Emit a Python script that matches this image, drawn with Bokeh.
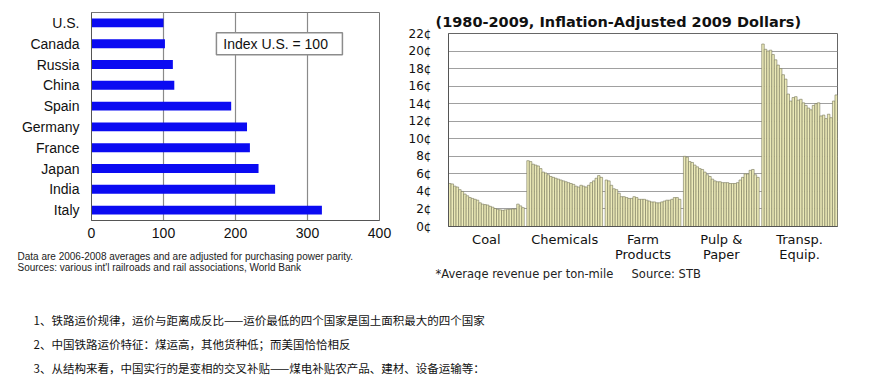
from bokeh.plotting import figure
from bokeh.models import FactorRange, Range1d, FixedTicker, Title, Label, ColumnDataSource
from bokeh.layouts import row, column
from bokeh.embed import file_html
from bokeh.resources import INLINE
from bokeh.core.properties import value

# ---------------- data ----------------
countries = ["U.S.", "Canada", "Russia", "China", "Spain", "Germany", "France", "Japan", "India", "Italy"]
rate_index = [100, 102, 113, 115, 194, 216, 220, 232, 255, 320]
left_ticks = [0, 100, 200, 300, 400]

years = list(range(1980, 2010))
commodities = ["Coal", "Chemicals", "Farm\nProducts", "Pulp &\nPaper", "Transp.\nEquip."]
coal = [4.9, 4.85, 4.6, 4.5, 4.2, 4.0, 3.7, 3.5, 3.3, 3.2, 3.1, 3.0, 2.7, 2.55, 2.5,
        2.45, 2.3, 2.2, 2.05, 1.95, 1.9, 1.85, 1.9, 1.95, 1.95, 2.0, 2.0, 2.55, 2.35, 2.15]
chemicals = [7.5, 7.4, 7.1, 7.0, 6.9, 6.6, 6.2, 6.1, 5.9, 5.7, 5.6, 5.5, 5.4, 5.3, 5.2,
             5.1, 5.0, 4.9, 4.8, 4.6, 4.5, 4.7, 4.6, 4.5, 4.7, 5.0, 5.2, 5.5, 5.8, 5.6]
farm = [5.3, 5.2, 4.7, 4.3, 4.2, 3.8, 3.4, 3.4, 3.3, 3.2, 3.2, 3.4, 3.3, 3.1, 3.1,
        3.1, 3.0, 2.9, 2.8, 2.8, 2.7, 2.7, 2.8, 2.9, 3.0, 3.0, 3.1, 3.3, 3.3, 3.1]
pulp = [8.0, 7.9, 7.4, 7.3, 7.0, 6.8, 6.6, 6.5, 6.2, 5.9, 5.7, 5.4, 5.2, 5.1, 5.1,
        5.0, 5.0, 5.0, 4.9, 4.9, 4.9, 5.0, 5.3, 5.6, 6.0, 6.0, 6.4, 6.5, 5.9, 5.6]
transp = [20.8, 20.2, 20.0, 20.1, 19.6, 19.0, 18.4, 18.0, 17.3, 16.8, 15.1, 14.3, 14.7, 14.8, 14.4,
          14.5, 14.1, 13.8, 13.5, 13.3, 13.8, 14.0, 14.1, 12.6, 12.7, 12.3, 12.8, 12.4, 14.3, 15.0]
right_ticks = list(range(0, 23, 2))

notes = [
    "1、铁路运价规律，运价与距离成反比——运价最低的四个国家是国土面积最大的四个国家",
    "2、中国铁路运价特征：煤运高，其他货种低；而美国恰恰相反",
    "3、从结构来看，中国实行的是变相的交叉补贴——煤电补贴农产品、建材、设备运输等：",
]

FONT = "Liberation Sans"
FONT2 = "DejaVu Sans"


def no_align(p):
    try:
        p.frame_align = False
    except Exception:
        pass


# ---------------- left chart ----------------
p1 = figure(width=400, height=283, y_range=FactorRange(factors=countries[::-1]),
            x_range=Range1d(0, 400), output_backend="svg", toolbar_location=None,
            min_border_left=91, min_border_right=21, min_border_top=12, min_border_bottom=63)
no_align(p1)
p1.hbar(y=countries, right=rate_index, left=0, height=0.43, fill_color="#0b0bf2", line_color=None)

p1.xaxis.ticker = FixedTicker(ticks=left_ticks)
p1.xgrid.ticker = FixedTicker(ticks=left_ticks)
p1.xgrid.grid_line_color = "#8a8a8a"
p1.xgrid.grid_line_width = 1.2
p1.ygrid.visible = False
for ax in (p1.xaxis, p1.yaxis):
    ax.major_tick_line_color = None
    ax.minor_tick_line_color = None
    ax.major_tick_out = 0
    ax.major_tick_in = 0
    ax.minor_tick_out = 0
    ax.axis_line_color = "#555555"
    ax.major_label_text_font = FONT
    ax.major_label_text_font_size = "14px"
    ax.major_label_text_color = "#111111"
p1.xaxis.major_label_standoff = 7
p1.yaxis.major_label_standoff = 12
p1.outline_line_color = "#777777"
p1.background_fill_color = "white"
p1.border_fill_color = "white"

box_src = ColumnDataSource(dict(bx=[261], tx=[183], y=["Canada"], t=["Index U.S. = 100"]))
p1.rect(x="bx", y="y", width=126, height=22, width_units="screen", height_units="screen",
        source=box_src, fill_color="white", line_color="#8c8c8c", line_width=1.5)
p1.text(x="tx", y="y", text="t", source=box_src, text_baseline="middle",
        text_font=value(FONT), text_font_size="14px", text_color="#111111")

p1.add_layout(Title(text="Data are 2006-2008 averages and are adjusted for purchasing power parity.\n"
                         "Sources: various int'l railroads and rail associations, World Bank",
                    align="left", offset=-74, standoff=17, text_font=FONT, text_font_size="10px",
                    text_line_height=1.0, text_font_style="normal", text_color="#222222"), "below")

# ---------------- right chart ----------------
n = len(years)
xs, tops = [], []
for g, series in enumerate([coal, chemicals, farm, pulp, transp]):
    for i, v in enumerate(series):
        xs.append(g * (n + 1) + i)
        tops.append(v)
centers = [g * (n + 1) + (n - 1) / 2 for g in range(len(commodities))]

p2 = figure(width=446, height=280, x_range=Range1d(-0.5, 5 * (n + 1) - 1.5), y_range=Range1d(0, 22),
            output_backend="svg", toolbar_location=None,
            min_border_left=48, min_border_right=9, min_border_top=33, min_border_bottom=51)
no_align(p2)
p2.vbar(x=xs, top=tops, width=1.0, fill_color="#eceab8", line_color="#77775a", line_width=0.6)

p2.yaxis.ticker = FixedTicker(ticks=right_ticks)
p2.yaxis.major_label_overrides = {t: f"{t}¢" for t in right_ticks}
p2.ygrid.ticker = FixedTicker(ticks=right_ticks)
p2.ygrid.grid_line_color = "#a0a0a0"
p2.xgrid.visible = False
p2.xaxis.ticker = FixedTicker(ticks=centers)
p2.xaxis.major_label_overrides = {c: lab for c, lab in zip(centers, commodities)}
for ax in (p2.xaxis, p2.yaxis):
    ax.major_tick_line_color = None
    ax.minor_tick_line_color = None
    ax.major_tick_out = 0
    ax.major_tick_in = 0
    ax.minor_tick_out = 0
    ax.axis_line_color = "#555555"
    ax.major_label_text_font = FONT2
    ax.major_label_text_color = "#111111"
p2.yaxis.major_label_text_font_size = "12px"
p2.xaxis.major_label_text_font_size = "13px"
p2.xaxis.major_label_text_line_height = 1.0
p2.yaxis.major_label_standoff = 17
p2.xaxis.major_label_standoff = 5
p2.outline_line_color = "#666666"
p2.border_fill_color = "white"

p2.add_layout(Title(text="(1980-2009, Inflation-Adjusted 2009 Dollars)", align="left", offset=-13,
                    standoff=8, text_font=FONT2, text_font_size="14.5px", text_font_style="bold",
                    text_color="#111111"), "above")
p2.add_layout(Title(text="*Average revenue per ton-mile\u00a0\u00a0\u00a0\u00a0\u00a0Source: STB",
                    align="left", offset=-13, standoff=0, text_font=FONT2, text_font_size="11.5px",
                    text_font_style="normal", text_color="#222222"), "below")

# ---------------- notes ----------------
p3 = figure(width=600, height=96, x_range=Range1d(0, 600), y_range=Range1d(96, 0),
            output_backend="svg", toolbar_location=None,
            min_border_left=0, min_border_right=0, min_border_top=0, min_border_bottom=0)
p3.axis.visible = False
p3.grid.visible = False
p3.outline_line_color = None
for k, t in enumerate(notes):
    p3.add_layout(Label(x=33, y=36 + 24 * k, text=t, text_baseline="middle",
                        text_font="Noto Sans CJK SC", text_font_size="11.5px", text_color="#111111"))

layout = column(row(p1, p2), p3)
open("out.html", "w").write(file_html(layout, INLINE))
